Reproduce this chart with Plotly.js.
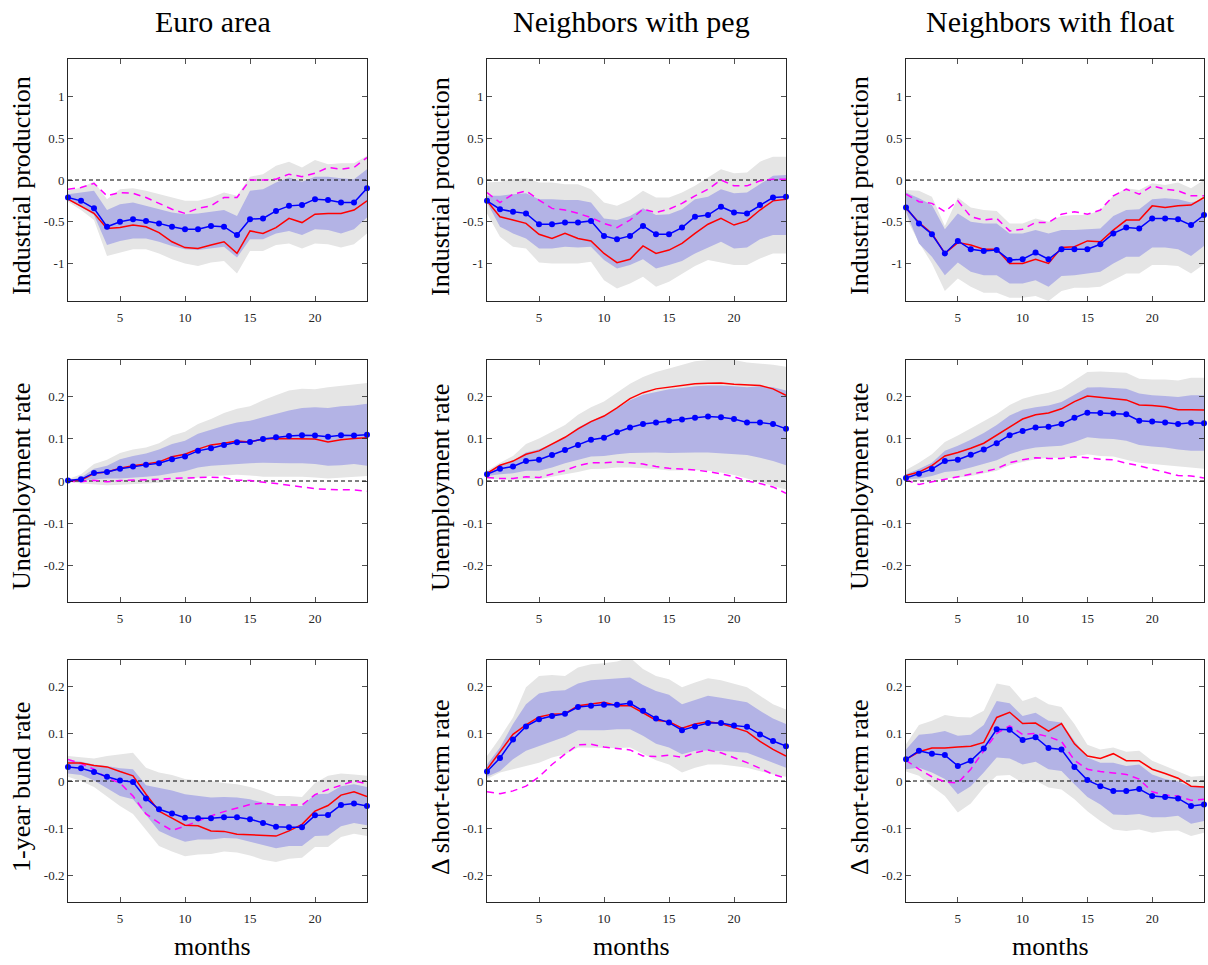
<!DOCTYPE html>
<html><head><meta charset="utf-8">
<script src="https://cdn.plot.ly/plotly-3.0.1.min.js"></script>
<style>html,body{margin:0;padding:0;background:#fff}#chart{width:1208px;height:965px}</style>
</head><body><div id="chart"></div>
<script>
// ---------------- DATA ----------------
const months = [1,2,3,4,5,6,7,8,9,10,11,12,13,14,15,16,17,18,19,20,21,22,23,24];
const colTitles = ["Euro area", "Neighbors with peg", "Neighbors with float"];
const rowTitlesEA = ["Industrial production", "Unemployment rate", "1-year bund rate"];
const rowTitlesPeg = ["Industrial production", "Unemployment rate", "\u0394 short-term rate"];
const rowTitlesFloat = ["Industrial production", "Unemployment rate", "\u0394 short-term rate"];
const xLabel = "months";
const xTickVals = [5, 10, 15, 20];
const xTickText = ["5", "10", "15", "20"];
const ipTickVals = [-1, -0.5, 0, 0.5, 1];
const ipTickText = ["-1", "-0.5", "0", "0.5", "1"];
const smallTickVals = [-0.2, -0.1, 0, 0.1, 0.2];
const smallTickText = ["-0.2", "-0.1", "0", "0.1", "0.2"];

// Euro area – industrial production
const ea_ip_blue  = [-0.21,-0.25,-0.34,-0.56,-0.50,-0.47,-0.49,-0.52,-0.56,-0.59,-0.59,-0.55,-0.56,-0.66,-0.47,-0.46,-0.37,-0.31,-0.30,-0.23,-0.24,-0.27,-0.27,-0.10];
const ea_ip_red   = [-0.23,-0.31,-0.40,-0.58,-0.57,-0.54,-0.56,-0.63,-0.74,-0.81,-0.82,-0.78,-0.74,-0.88,-0.61,-0.64,-0.57,-0.46,-0.51,-0.41,-0.40,-0.40,-0.36,-0.25];
const ea_ip_mag   = [-0.11,-0.09,-0.04,-0.19,-0.15,-0.16,-0.21,-0.28,-0.35,-0.40,-0.34,-0.31,-0.21,-0.21,0.00,0.00,0.01,0.07,0.04,0.08,0.15,0.13,0.15,0.27];
const ea_ip_grayHi= [-0.13,-0.09,-0.02,-0.23,-0.11,-0.10,-0.13,-0.17,-0.21,-0.25,-0.25,-0.21,-0.15,-0.19,0.04,0.07,0.17,0.22,0.15,0.24,0.19,0.20,0.20,0.29];
const ea_ip_grayLo= [-0.26,-0.36,-0.48,-0.91,-0.87,-0.83,-0.83,-0.88,-0.95,-1.00,-1.03,-0.99,-0.97,-1.12,-0.85,-0.85,-0.78,-0.76,-0.82,-0.76,-0.77,-0.81,-0.77,-0.64];
const ea_ip_bandHi= [-0.17,-0.15,-0.13,-0.36,-0.29,-0.27,-0.31,-0.35,-0.39,-0.41,-0.40,-0.38,-0.36,-0.43,-0.13,-0.11,-0.03,0.03,-0.02,0.04,0.04,0.02,0.01,0.13];
const ea_ip_bandLo= [-0.24,-0.32,-0.42,-0.78,-0.73,-0.70,-0.70,-0.74,-0.79,-0.83,-0.84,-0.82,-0.80,-0.93,-0.71,-0.71,-0.64,-0.61,-0.66,-0.59,-0.60,-0.64,-0.59,-0.45];

// Neighbors with peg – industrial production
const peg_ip_blue  = [-0.25,-0.35,-0.38,-0.40,-0.53,-0.53,-0.51,-0.51,-0.49,-0.67,-0.71,-0.67,-0.55,-0.65,-0.65,-0.57,-0.44,-0.42,-0.32,-0.39,-0.40,-0.30,-0.21,-0.20];
const peg_ip_red   = [-0.25,-0.44,-0.48,-0.52,-0.65,-0.70,-0.64,-0.70,-0.73,-0.88,-0.99,-0.95,-0.79,-0.88,-0.84,-0.76,-0.64,-0.53,-0.46,-0.54,-0.49,-0.36,-0.25,-0.23];
const peg_ip_mag   = [-0.15,-0.27,-0.17,-0.13,-0.24,-0.34,-0.36,-0.40,-0.45,-0.52,-0.57,-0.48,-0.35,-0.39,-0.35,-0.28,-0.19,-0.11,0.00,-0.07,-0.07,-0.01,0.01,0.01];
const peg_ip_grayHi= [-0.03,-0.02,0.01,0.02,-0.03,-0.03,-0.05,-0.05,-0.11,-0.27,-0.31,-0.24,-0.13,-0.21,-0.21,-0.15,-0.07,0.03,0.13,0.08,0.09,0.22,0.28,0.28];
const peg_ip_grayLo= [-0.40,-0.68,-0.80,-0.82,-0.99,-1.00,-1.00,-1.00,-0.98,-1.20,-1.30,-1.24,-1.16,-1.28,-1.22,-1.13,-1.03,-0.96,-0.99,-1.02,-1.02,-0.94,-0.88,-0.88];
const peg_ip_bandHi= [-0.19,-0.19,-0.17,-0.16,-0.23,-0.23,-0.24,-0.24,-0.27,-0.46,-0.48,-0.43,-0.34,-0.42,-0.41,-0.35,-0.23,-0.20,-0.11,-0.16,-0.15,-0.05,0.05,0.06];
const peg_ip_bandLo= [-0.27,-0.56,-0.64,-0.70,-0.82,-0.82,-0.80,-0.81,-0.80,-0.96,-1.06,-1.02,-0.95,-1.06,-1.02,-0.97,-0.88,-0.81,-0.74,-0.82,-0.81,-0.71,-0.66,-0.66];

// Neighbors with float – industrial production
const flt_ip_blue  = [-0.33,-0.52,-0.65,-0.88,-0.73,-0.83,-0.85,-0.84,-0.96,-0.95,-0.87,-0.95,-0.83,-0.83,-0.83,-0.77,-0.64,-0.57,-0.58,-0.46,-0.46,-0.47,-0.54,-0.42];
const flt_ip_red   = [-0.34,-0.51,-0.64,-0.88,-0.75,-0.78,-0.83,-0.83,-1.00,-1.00,-0.95,-1.00,-0.81,-0.80,-0.73,-0.74,-0.60,-0.48,-0.48,-0.31,-0.33,-0.31,-0.30,-0.21];
const flt_ip_mag   = [-0.17,-0.26,-0.28,-0.38,-0.25,-0.44,-0.48,-0.46,-0.61,-0.59,-0.51,-0.51,-0.41,-0.38,-0.41,-0.36,-0.19,-0.11,-0.17,-0.07,-0.11,-0.13,-0.19,-0.19];
const flt_ip_grayHi= [-0.12,-0.13,-0.20,-0.55,-0.21,-0.33,-0.36,-0.37,-0.52,-0.52,-0.46,-0.50,-0.43,-0.42,-0.42,-0.36,-0.19,-0.10,-0.12,-0.04,-0.06,-0.03,-0.10,0.00];
const flt_ip_grayLo= [-0.45,-0.75,-1.00,-1.33,-1.18,-1.28,-1.35,-1.35,-1.41,-1.41,-1.39,-1.45,-1.33,-1.29,-1.29,-1.28,-1.20,-1.12,-1.12,-1.02,-1.02,-1.03,-1.12,-1.01];
const flt_ip_bandHi= [-0.15,-0.22,-0.30,-0.59,-0.40,-0.50,-0.52,-0.52,-0.64,-0.64,-0.60,-0.64,-0.60,-0.60,-0.59,-0.58,-0.43,-0.36,-0.35,-0.23,-0.22,-0.23,-0.27,-0.23];
const flt_ip_bandLo= [-0.38,-0.76,-0.92,-1.14,-0.99,-1.10,-1.14,-1.14,-1.24,-1.24,-1.20,-1.28,-1.15,-1.14,-1.12,-1.10,-1.00,-0.92,-0.92,-0.81,-0.81,-0.83,-0.91,-0.79];

// Euro area – unemployment
const ea_un_blue  = [0.001,0.004,0.019,0.021,0.029,0.034,0.038,0.042,0.051,0.058,0.071,0.077,0.085,0.091,0.092,0.099,0.103,0.106,0.108,0.107,0.104,0.108,0.107,0.109];
const ea_un_red   = [0.001,0.002,0.018,0.021,0.030,0.036,0.040,0.045,0.057,0.063,0.075,0.085,0.089,0.094,0.092,0.099,0.100,0.100,0.100,0.099,0.092,0.097,0.100,0.102];
const ea_un_mag   = [0.000,-0.002,0.002,-0.002,0.001,0.002,0.002,0.004,0.006,0.007,0.008,0.009,0.008,0.002,0.001,-0.002,-0.006,-0.010,-0.014,-0.018,-0.020,-0.020,-0.021,-0.024];
const ea_un_grayHi= [0.004,0.016,0.040,0.050,0.066,0.074,0.079,0.089,0.107,0.116,0.134,0.146,0.160,0.170,0.176,0.190,0.202,0.213,0.217,0.216,0.221,0.224,0.227,0.231];
const ea_un_grayLo= [-0.002,-0.006,-0.008,-0.010,-0.009,-0.008,-0.006,-0.004,0.000,0.002,0.008,0.012,0.013,0.015,0.013,0.010,0.010,0.010,0.010,0.008,0.006,0.008,0.010,0.012];
const ea_un_bandHi= [0.002,0.008,0.029,0.036,0.051,0.059,0.065,0.074,0.087,0.095,0.111,0.121,0.130,0.138,0.142,0.150,0.158,0.166,0.172,0.174,0.172,0.176,0.178,0.182];
const ea_un_bandLo= [-0.001,0.000,0.004,0.006,0.006,0.008,0.010,0.013,0.018,0.023,0.032,0.036,0.037,0.040,0.042,0.043,0.043,0.042,0.042,0.040,0.036,0.037,0.040,0.036];

// Neighbors with peg – unemployment
const peg_un_blue  = [0.016,0.029,0.034,0.047,0.050,0.061,0.073,0.085,0.097,0.102,0.115,0.126,0.134,0.138,0.142,0.145,0.149,0.152,0.150,0.146,0.138,0.138,0.134,0.123];
const peg_un_red   = [0.018,0.037,0.047,0.063,0.071,0.087,0.103,0.123,0.140,0.153,0.172,0.194,0.208,0.217,0.221,0.225,0.229,0.230,0.231,0.228,0.227,0.225,0.217,0.202];
const peg_un_mag   = [0.008,0.006,0.006,0.010,0.008,0.016,0.025,0.036,0.043,0.043,0.045,0.043,0.040,0.034,0.030,0.028,0.026,0.022,0.017,0.010,0.000,-0.006,-0.014,-0.029];
const peg_un_grayHi= [0.024,0.043,0.059,0.087,0.100,0.116,0.132,0.156,0.174,0.187,0.209,0.229,0.245,0.257,0.265,0.274,0.282,0.285,0.285,0.285,0.279,0.277,0.274,0.269];
const peg_un_grayLo= [0.006,0.004,0.002,0.004,0.004,0.010,0.016,0.021,0.028,0.029,0.032,0.032,0.030,0.028,0.025,0.025,0.026,0.024,0.020,0.014,0.006,-0.002,-0.012,-0.020];
const peg_un_bandHi= [0.020,0.037,0.047,0.067,0.075,0.087,0.103,0.126,0.142,0.153,0.170,0.190,0.203,0.209,0.216,0.219,0.223,0.225,0.225,0.223,0.221,0.223,0.221,0.213];
const peg_un_bandLo= [0.012,0.016,0.018,0.024,0.024,0.032,0.042,0.050,0.058,0.059,0.063,0.066,0.067,0.067,0.066,0.066,0.067,0.067,0.066,0.063,0.061,0.055,0.047,0.037];

// Neighbors with float – unemployment
const flt_un_blue  = [0.007,0.017,0.028,0.047,0.050,0.062,0.074,0.089,0.108,0.118,0.126,0.128,0.134,0.149,0.161,0.160,0.159,0.157,0.142,0.140,0.138,0.134,0.137,0.136];
const flt_un_red   = [0.013,0.021,0.036,0.059,0.067,0.077,0.089,0.108,0.129,0.146,0.156,0.160,0.170,0.187,0.200,0.197,0.194,0.191,0.179,0.178,0.175,0.168,0.168,0.167];
const flt_un_mag   = [0.002,-0.008,-0.002,0.004,0.010,0.015,0.022,0.029,0.043,0.050,0.055,0.053,0.053,0.057,0.055,0.051,0.050,0.042,0.036,0.028,0.020,0.013,0.012,0.007];
const flt_un_grayHi= [0.026,0.043,0.063,0.092,0.107,0.124,0.142,0.158,0.179,0.194,0.202,0.208,0.217,0.237,0.257,0.258,0.257,0.255,0.241,0.239,0.239,0.237,0.243,0.243];
const flt_un_grayLo= [0.002,0.000,0.002,0.006,0.008,0.012,0.018,0.024,0.037,0.045,0.051,0.055,0.055,0.058,0.063,0.059,0.058,0.050,0.043,0.040,0.037,0.034,0.032,0.029];
const flt_un_bandHi= [0.016,0.028,0.043,0.071,0.083,0.097,0.113,0.132,0.154,0.168,0.174,0.178,0.186,0.203,0.220,0.221,0.219,0.217,0.206,0.202,0.200,0.198,0.202,0.202];
const flt_un_bandLo= [0.004,0.006,0.012,0.021,0.024,0.032,0.040,0.049,0.063,0.073,0.079,0.081,0.083,0.092,0.103,0.100,0.099,0.095,0.085,0.081,0.079,0.074,0.071,0.071];

// Euro area – 1-year bund rate
const ea_rt_blue  = [0.030,0.027,0.019,0.009,0.001,-0.002,-0.037,-0.060,-0.069,-0.078,-0.079,-0.079,-0.077,-0.077,-0.081,-0.089,-0.097,-0.098,-0.098,-0.073,-0.072,-0.051,-0.048,-0.053];
const ea_rt_red   = [0.038,0.038,0.033,0.030,0.020,0.011,-0.028,-0.064,-0.079,-0.094,-0.095,-0.106,-0.107,-0.113,-0.114,-0.116,-0.117,-0.106,-0.092,-0.064,-0.052,-0.030,-0.023,-0.033];
const ea_rt_mag   = [0.046,0.037,0.025,0.006,-0.004,-0.032,-0.070,-0.089,-0.105,-0.096,-0.085,-0.074,-0.065,-0.058,-0.050,-0.047,-0.050,-0.051,-0.051,-0.029,-0.018,-0.009,0.000,-0.006];
const ea_rt_grayHi= [0.053,0.051,0.048,0.053,0.057,0.060,0.028,0.018,0.013,0.004,0.001,0.000,-0.004,-0.007,-0.013,-0.021,-0.032,-0.032,-0.034,-0.004,0.011,0.016,0.014,0.011];
const ea_rt_grayLo= [0.009,0.000,-0.013,-0.032,-0.053,-0.070,-0.103,-0.138,-0.150,-0.160,-0.156,-0.155,-0.150,-0.152,-0.158,-0.167,-0.172,-0.165,-0.163,-0.140,-0.140,-0.119,-0.112,-0.117];
const ea_rt_bandHi= [0.044,0.041,0.035,0.032,0.027,0.025,-0.009,-0.014,-0.020,-0.028,-0.032,-0.035,-0.034,-0.035,-0.039,-0.046,-0.053,-0.053,-0.053,-0.028,-0.027,-0.011,-0.007,-0.013];
const ea_rt_bandLo= [0.016,0.013,0.001,-0.016,-0.032,-0.039,-0.072,-0.106,-0.119,-0.129,-0.124,-0.124,-0.121,-0.122,-0.128,-0.136,-0.143,-0.138,-0.138,-0.117,-0.116,-0.096,-0.089,-0.094];

// Neighbors with peg – Δ short-term rate
const peg_rt_blue  = [0.020,0.049,0.088,0.116,0.131,0.138,0.143,0.157,0.160,0.162,0.162,0.165,0.149,0.133,0.124,0.108,0.116,0.123,0.123,0.118,0.115,0.099,0.085,0.074];
const peg_rt_red   = [0.025,0.062,0.099,0.119,0.136,0.142,0.143,0.160,0.163,0.167,0.160,0.160,0.145,0.129,0.126,0.112,0.121,0.126,0.122,0.113,0.105,0.084,0.067,0.053];
const peg_rt_mag   = [-0.023,-0.027,-0.021,-0.011,0.009,0.035,0.057,0.077,0.078,0.072,0.069,0.066,0.053,0.052,0.055,0.050,0.060,0.066,0.060,0.050,0.039,0.027,0.014,0.006];
const peg_rt_grayHi= [0.053,0.092,0.135,0.199,0.223,0.225,0.223,0.241,0.248,0.250,0.254,0.262,0.238,0.223,0.216,0.199,0.209,0.218,0.214,0.206,0.199,0.181,0.163,0.152];
const peg_rt_grayLo= [0.004,0.018,0.025,0.032,0.039,0.050,0.057,0.071,0.070,0.070,0.070,0.071,0.058,0.044,0.035,0.018,0.028,0.035,0.035,0.032,0.028,0.021,0.014,0.009];
const peg_rt_bandHi= [0.035,0.071,0.121,0.163,0.186,0.191,0.193,0.207,0.214,0.216,0.217,0.220,0.204,0.191,0.183,0.163,0.172,0.181,0.177,0.172,0.167,0.149,0.133,0.121];
const peg_rt_bandLo= [0.009,0.021,0.046,0.064,0.074,0.084,0.094,0.108,0.108,0.108,0.110,0.110,0.096,0.079,0.071,0.057,0.064,0.065,0.064,0.062,0.060,0.050,0.039,0.028];

// Neighbors with float – Δ short-term rate
const flt_rt_blue  = [0.046,0.064,0.058,0.055,0.032,0.043,0.069,0.110,0.109,0.087,0.093,0.070,0.067,0.030,0.002,-0.011,-0.021,-0.021,-0.017,-0.032,-0.034,-0.037,-0.053,-0.050];
const flt_rt_red   = [0.046,0.062,0.070,0.070,0.072,0.074,0.082,0.135,0.146,0.122,0.123,0.106,0.122,0.079,0.053,0.048,0.058,0.043,0.043,0.025,0.016,0.006,-0.011,-0.013];
const flt_rt_mag   = [0.044,0.025,0.009,-0.002,-0.004,0.025,0.064,0.101,0.117,0.099,0.101,0.094,0.084,0.044,0.025,0.020,0.017,0.014,0.004,-0.023,-0.030,-0.032,-0.041,-0.039];
const flt_rt_grayHi= [0.078,0.119,0.128,0.140,0.136,0.135,0.149,0.207,0.202,0.170,0.179,0.163,0.157,0.121,0.077,0.067,0.071,0.062,0.064,0.043,0.032,0.021,0.009,0.011];
const flt_rt_grayLo= [0.020,0.011,-0.011,-0.032,-0.067,-0.048,-0.014,0.011,0.013,-0.004,0.001,-0.014,-0.018,-0.039,-0.064,-0.085,-0.103,-0.106,-0.103,-0.110,-0.106,-0.105,-0.117,-0.110];
const flt_rt_bandHi= [0.067,0.098,0.101,0.106,0.096,0.098,0.119,0.170,0.165,0.138,0.145,0.128,0.124,0.085,0.050,0.039,0.039,0.032,0.035,0.014,0.004,-0.001,-0.013,-0.011];
const flt_rt_bandLo= [0.025,0.028,0.018,0.004,-0.028,-0.011,0.018,0.050,0.048,0.035,0.041,0.025,0.021,-0.007,-0.034,-0.050,-0.071,-0.072,-0.070,-0.077,-0.077,-0.074,-0.091,-0.085];

// ---------------- ASSEMBLY ----------------
const panels = [
  {s:[ea_ip_blue,ea_ip_red,ea_ip_mag,ea_ip_grayHi,ea_ip_grayLo,ea_ip_bandHi,ea_ip_bandLo], title: rowTitlesEA[0]},
  {s:[peg_ip_blue,peg_ip_red,peg_ip_mag,peg_ip_grayHi,peg_ip_grayLo,peg_ip_bandHi,peg_ip_bandLo], title: rowTitlesPeg[0]},
  {s:[flt_ip_blue,flt_ip_red,flt_ip_mag,flt_ip_grayHi,flt_ip_grayLo,flt_ip_bandHi,flt_ip_bandLo], title: rowTitlesFloat[0]},
  {s:[ea_un_blue,ea_un_red,ea_un_mag,ea_un_grayHi,ea_un_grayLo,ea_un_bandHi,ea_un_bandLo], title: rowTitlesEA[1]},
  {s:[peg_un_blue,peg_un_red,peg_un_mag,peg_un_grayHi,peg_un_grayLo,peg_un_bandHi,peg_un_bandLo], title: rowTitlesPeg[1]},
  {s:[flt_un_blue,flt_un_red,flt_un_mag,flt_un_grayHi,flt_un_grayLo,flt_un_bandHi,flt_un_bandLo], title: rowTitlesFloat[1]},
  {s:[ea_rt_blue,ea_rt_red,ea_rt_mag,ea_rt_grayHi,ea_rt_grayLo,ea_rt_bandHi,ea_rt_bandLo], title: rowTitlesEA[2]},
  {s:[peg_rt_blue,peg_rt_red,peg_rt_mag,peg_rt_grayHi,peg_rt_grayLo,peg_rt_bandHi,peg_rt_bandLo], title: rowTitlesPeg[2]},
  {s:[flt_rt_blue,flt_rt_red,flt_rt_mag,flt_rt_grayHi,flt_rt_grayLo,flt_rt_bandHi,flt_rt_bandLo], title: rowTitlesFloat[2]}
];

const W = 1208, H = 965;
const colPx = [[68,367],[487,786],[906,1204]];
const rowPx = [[59,301],[360,602],[660,902]];
const rowRanges = [[-1.45,1.45],[-0.285,0.285],[-0.257,0.257]];
const rowTicks = [[ipTickVals, ipTickText],[smallTickVals, smallTickText],[smallTickVals, smallTickText]];

const FONT = "Liberation Serif, Times New Roman, serif";
const AXC = "#262626";
const traces = [];
const layout = {
  width: W, height: H, margin:{l:0,r:0,t:0,b:0},
  paper_bgcolor:"#ffffff", plot_bgcolor:"#ffffff", showlegend:false,
  font:{family:FONT, color:"#000"}, annotations:[]
};
const revMonths = months.slice().reverse();

panels.forEach((p, k) => {
  const r = Math.floor(k/3), c = k%3, n = k+1;
  const xa = 'x' + (n===1?'':n), ya = 'y' + (n===1?'':n);
  const [blue, red, mag, gHi, gLo, bHi, bLo] = p.s;
  traces.push({x: months.concat(revMonths), y: gHi.concat(gLo.slice().reverse()), xaxis:xa, yaxis:ya,
    type:'scatter', mode:'lines', fill:'toself', fillcolor:'#e5e5e5', line:{width:0, color:'rgba(0,0,0,0)'}, hoverinfo:'skip'});
  traces.push({x: months.concat(revMonths), y: bHi.concat(bLo.slice().reverse()), xaxis:xa, yaxis:ya,
    type:'scatter', mode:'lines', fill:'toself', fillcolor:'#b3b3e5', line:{width:0, color:'rgba(0,0,0,0)'}, hoverinfo:'skip'});
  traces.push({x:[months[0], months[months.length-1]], y:[0,0], xaxis:xa, yaxis:ya, type:'scatter', mode:'lines',
    line:{color:'#000', width:1, dash:'4px,3px'}, hoverinfo:'skip'});
  traces.push({x:months, y:mag, xaxis:xa, yaxis:ya, type:'scatter', mode:'lines',
    line:{color:'#ff00ff', width:1.5, dash:'7px,5px'}});
  traces.push({x:months, y:red, xaxis:xa, yaxis:ya, type:'scatter', mode:'lines',
    line:{color:'#ff0000', width:1.5}});
  traces.push({x:months, y:blue, xaxis:xa, yaxis:ya, type:'scatter', mode:'lines+markers', cliponaxis:false,
    line:{color:'#0000ff', width:1.5}, marker:{color:'#0000ff', size:6}});

  const common = {showline:true, linecolor:AXC, linewidth:1, mirror:'ticks', ticks:'inside', ticklen:5,
    tickwidth:0.8, tickcolor:AXC, showgrid:false, zeroline:false, fixedrange:true,
    tickfont:{family:FONT, size:13, color:AXC}};
  layout['xaxis'+(n===1?'':n)] = Object.assign({}, common, {
    domain:[colPx[c][0]/W, colPx[c][1]/W], range:[months[0], months[months.length-1]],
    tickmode:'array', tickvals:xTickVals, ticktext:xTickText, anchor:ya, ticklabelstandoff:4});
  layout['yaxis'+(n===1?'':n)] = Object.assign({}, common, {
    domain:[1-rowPx[r][1]/H, 1-rowPx[r][0]/H], range:rowRanges[r],
    tickmode:'array', tickvals:rowTicks[r][0], ticktext:rowTicks[r][1], anchor:xa});

  // y-axis title
  layout.annotations.push({text:p.title, xref:'paper', yref:'paper',
    x:(colPx[c][0]-47)/W, y:1-((rowPx[r][0]+rowPx[r][1])/2+6)/H, xanchor:'center', yanchor:'middle',
    textangle:-90, showarrow:false, font:{family:FONT, size:26, color:'#000'}});
});

colTitles.forEach((t, c) => {
  const cx = (colPx[c][0]+colPx[c][1])/2 - 5;
  layout.annotations.push({text:t, xref:'paper', yref:'paper', x:cx/W, y:1-21/H, xanchor:'center', yanchor:'middle',
    showarrow:false, font:{family:FONT, size:30, color:'#000'}});
  layout.annotations.push({text:xLabel, xref:'paper', yref:'paper', x:cx/W, y:1-963/H, xanchor:'center', yanchor:'bottom',
    showarrow:false, font:{family:FONT, size:26, color:'#000'}});
});

Plotly.newPlot('chart', traces, layout, {staticPlot:true, displayModeBar:false});
</script>
</body></html>
